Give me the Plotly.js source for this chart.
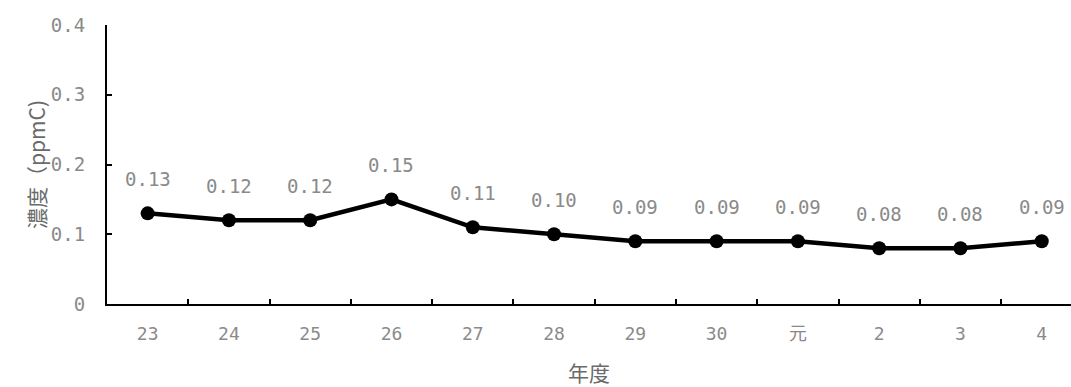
<!DOCTYPE html>
<html>
<head>
<meta charset="utf-8">
<script src="https://cdn.plot.ly/plotly-3.0.1.min.js"></script>
<style>
  html, body { margin: 0; padding: 0; background: #fff; }
  #chart { width: 1071px; height: 387px; }
</style>
</head>
<body>
<div id="chart"></div>
<script>
// Fiscal years (Heisei 23–30, Reiwa 元–4) and annual mean concentration
const years = ['23', '24', '25', '26', '27', '28', '29', '30', '元', '2', '3', '4'];
const concentration = [0.13, 0.12, 0.12, 0.15, 0.11, 0.10, 0.09, 0.09, 0.09, 0.08, 0.08, 0.09];
const yTickValues = [0, 0.1, 0.2, 0.3, 0.4];
const yTickLabels = ['0', '0.1', '0.2', '0.3', '0.4'];

const labelFont = 'DejaVu Sans Mono, Noto Sans CJK JP, monospace';
const grey = '#8a8a8a';

const trace = {
  type: 'scatter',
  mode: 'lines+markers',
  x: years,
  y: concentration,
  line: { color: '#000', width: 4.5 },
  marker: { color: '#000', size: 14 },
  hoverinfo: 'skip',
  cliponaxis: false
};

// Value labels above each point (x given as category index)
const valueLabels = years.map((yr, i) => ({
  x: i,
  y: concentration[i],
  xref: 'x',
  yref: 'y',
  text: concentration[i].toFixed(2),
  showarrow: false,
  yanchor: 'middle',
  yshift: 34,
  font: { family: labelFont, size: 19, color: grey }
}));

const layout = {
  width: 1071,
  height: 387,
  margin: { l: 107, r: 0, t: 25, b: 83 },
  paper_bgcolor: '#fff',
  plot_bgcolor: '#fff',
  showlegend: false,
  xaxis: {
    type: 'category',
    categoryorder: 'array',
    categoryarray: years,
    range: [-0.5, 11.36],
    showgrid: false,
    zeroline: false,
    showline: true,
    linecolor: '#000',
    linewidth: 2,
    ticks: 'inside',
    tickson: 'boundaries',
    ticklen: 5,
    tickwidth: 2,
    tickcolor: '#000',
    tickfont: { family: labelFont, size: 18, color: grey },
    ticklabelstandoff: 12,
    title: {
      text: '年度',
      standoff: 24,
      font: { family: 'Noto Sans CJK JP', size: 21, color: '#6a6a6a' }
    }
  },
  yaxis: {
    range: [0, 0.4],
    tickvals: yTickValues,
    ticktext: yTickLabels,
    showgrid: false,
    zeroline: false,
    showline: true,
    linecolor: '#000',
    linewidth: 2,
    ticks: 'inside',
    ticklen: 5,
    tickwidth: 2,
    tickcolor: '#000',
    tickfont: { family: labelFont, size: 19, color: grey },
    ticklabelstandoff: 16,
    title: {
      text: '濃度（ppmC)',
      standoff: 0,
      font: { family: 'Noto Sans CJK JP', size: 21, color: '#6a6a6a' }
    }
  },
  annotations: valueLabels
};

Plotly.newPlot('chart', [trace], layout, { displayModeBar: false, staticPlot: true });
</script>
</body>
</html>
